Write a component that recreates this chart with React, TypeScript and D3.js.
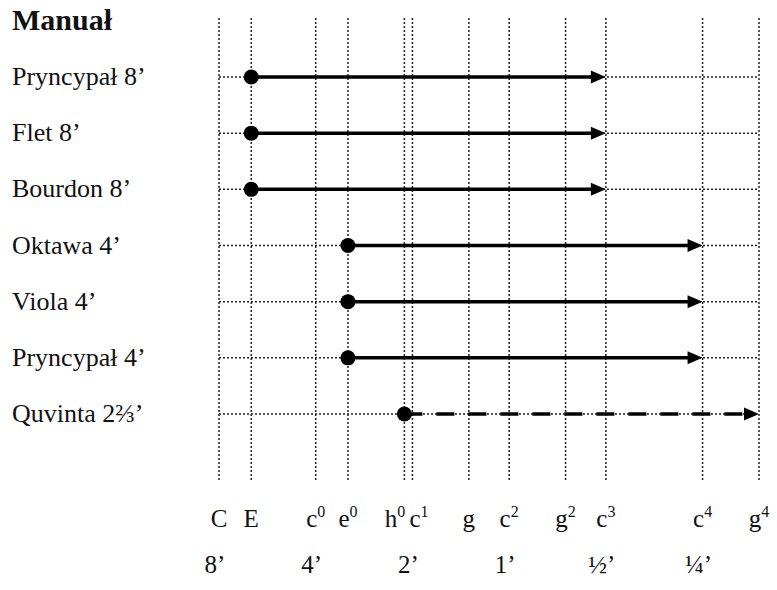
import React from "react";
import * as d3 from "d3";

// Note names on the keyboard axis, their superscripts and pitch in semitones above C
const noteNames = ["C", "E", "c", "e", "h", "c", "g", "c", "g", "c", "c", "g"];
const noteSups = ["", "", "0", "0", "0", "1", "", "2", "2", "3", "4", "4"];
const noteSemitones = [0, 4, 12, 16, 23, 24, 31, 36, 43, 48, 60, 67];

// Footage labels and the pitch they sit under
const footageLabels = ["8’", "4’", "2’", "1’", "½’", "¼’"];
const footageSemitones = [0, 12, 24, 36, 48, 60];

// Stops (rows), their compass start / end pitch and line style
const stopNames = [
  "Pryncypał 8’",
  "Flet 8’",
  "Bourdon 8’",
  "Oktawa 4’",
  "Viola 4’",
  "Pryncypał 4’",
  "Quvinta 2⅔’",
];
const stopStart = [4, 4, 4, 16, 16, 16, 23];
const stopEnd = [48, 48, 48, 60, 60, 60, 67];
const stopDashed = [false, false, false, false, false, false, true];

const title = "Manuał";

const W = 777;
const H = 590;

export default function App() {
  const x = d3.scaleLinear().domain([0, 67]).range([219, 759]);
  const y = d3.scalePoint<string>().domain(stopNames).range([77, 414]);
  const gridTop = 18;
  const gridBottom = 480;
  const font = "'Liberation Serif', 'Times New Roman', serif";
  const arrowLen = 15;
  const arrowHalf = 6.5;

  // label placement: separate labels whose lines are very close together
  const xs = noteSemitones.map((s) => x(s));
  const anchors = xs.map((v, i) => {
    const prevClose = i > 0 && v - xs[i - 1] < 14;
    const nextClose = i < xs.length - 1 && xs[i + 1] - v < 14;
    if (nextClose) return { anchor: "end", dx: 1 };
    if (prevClose) return { anchor: "start", dx: -3 };
    return { anchor: "middle", dx: 0 };
  });

  return (
    <svg
      width={W}
      height={H}
      style={{ position: "absolute", left: 0, top: 0, background: "#fff" }}
      fontFamily={font}
    >
      <rect width={W} height={H} fill="#fff" />
      {/* vertical grid */}
      {noteSemitones.map((s, i) => (
        <line
          key={"v" + i}
          x1={x(s)}
          x2={x(s)}
          y1={gridTop}
          y2={gridBottom}
          stroke="#222"
          strokeWidth={1.5}
          strokeDasharray="2 2"
        />
      ))}
      {/* horizontal grid */}
      {stopNames.map((n) => (
        <line
          key={"h" + n}
          x1={x(0)}
          x2={x(67)}
          y1={y(n)}
          y2={y(n)}
          stroke="#222"
          strokeWidth={1.5}
          strokeDasharray="2 2"
        />
      ))}
      {/* title */}
      <text x={12} y={30} fontSize={30} fontWeight="bold" fill="#111">
        {title}
      </text>
      {/* stop labels */}
      {stopNames.map((n) => (
        <text key={"l" + n} x={12} y={(y(n) as number) + 8} fontSize={26} fill="#111">
          {n}
        </text>
      ))}
      {/* ranges */}
      {stopNames.map((n, i) => {
        const yy = y(n) as number;
        const x0 = x(stopStart[i]);
        const x1 = x(stopEnd[i]);
        return (
          <g key={"r" + n}>
            <line
              x1={x0}
              x2={x1 - arrowLen + 1}
              y1={yy}
              y2={yy}
              stroke="#000"
              strokeWidth={3.5}
              strokeDasharray={stopDashed[i] ? "18 14" : undefined}
            />
            <path
              d={`M${x1},${yy} L${x1 - arrowLen},${yy - arrowHalf} L${x1 - arrowLen},${yy + arrowHalf} Z`}
              fill="#000"
            />
            <circle cx={x0} cy={yy} r={7.5} fill="#000" />
          </g>
        );
      })}
      {/* note labels */}
      {noteNames.map((nm, i) => (
        <text
          key={"n" + i}
          x={xs[i] + anchors[i].dx}
          y={527}
          fontSize={25}
          textAnchor={anchors[i].anchor}
          fill="#111"
        >
          {nm}
          {noteSups[i] ? (
            <tspan fontSize={16} dy={-10}>
              {noteSups[i]}
            </tspan>
          ) : null}
        </text>
      ))}
      {/* footage labels */}
      {footageLabels.map((f, i) => (
        <text
          key={"f" + i}
          x={x(footageSemitones[i]) - 4}
          y={573}
          fontSize={25}
          textAnchor="middle"
          fill="#111"
        >
          {f}
        </text>
      ))}
    </svg>
  );
}
